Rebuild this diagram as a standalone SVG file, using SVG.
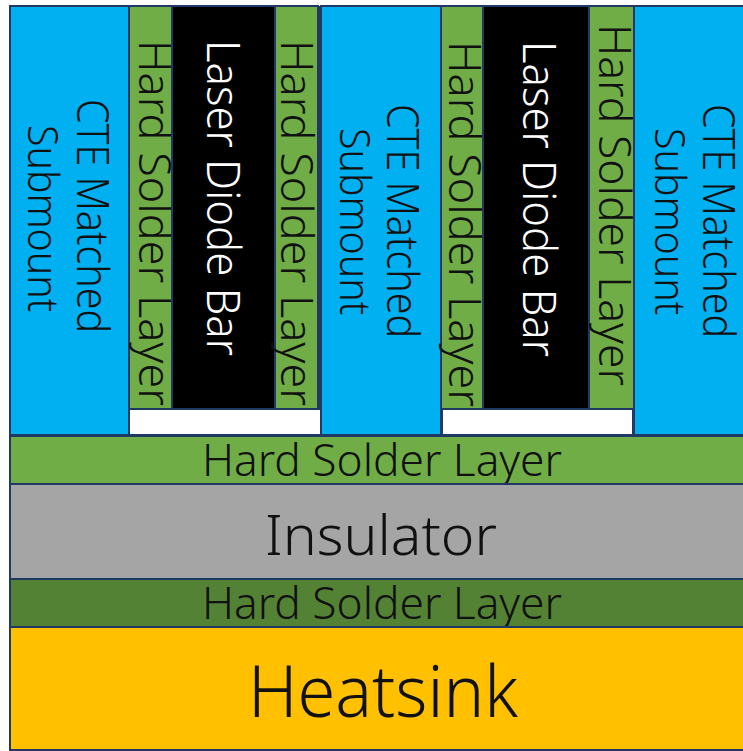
<svg xmlns="http://www.w3.org/2000/svg" width="743" height="751" viewBox="0 0 743 751">
<style>
.b{stroke:#203864;stroke-width:2}
.t{font-family:"Noto Sans","Liberation Sans",sans-serif;font-weight:300;fill:#111}
.g{fill:#70ad47}.s{fill:#00b0f0}.k{fill:#000}.w{fill:#fff}
.v{font-size:44px}.h{font-size:44px}
.l{fill:#fff;font-size:46px}
</style>
<rect width="743" height="751" fill="#fff"/>
<g id="submount-1"><rect class="b s" x="10" y="6" width="119" height="429"/>
<text class="t v" textLength="234" lengthAdjust="spacingAndGlyphs" transform="translate(77,99) rotate(90)">CTE Matched</text><text class="t" style="font-size:42px" textLength="187" lengthAdjust="spacingAndGlyphs" transform="translate(28,125) rotate(90)">Submount</text></g>
<g id="solder-1"><rect class="b g" x="129" y="6" width="43" height="403"/><text class="t v" textLength="366" lengthAdjust="spacingAndGlyphs" transform="translate(139,40) rotate(90)">Hard Solder Layer</text></g>
<g id="bar-1"><rect class="b k" x="172" y="6" width="103" height="403"/><text class="t l" textLength="316" lengthAdjust="spacingAndGlyphs" transform="translate(207,40) rotate(90)">Laser Diode Bar</text></g>
<g id="solder-2"><rect class="b g" x="275" y="6" width="43" height="403"/><rect x="318" y="6" width="4" height="403" fill="#203864"/><text class="t v" textLength="366" lengthAdjust="spacingAndGlyphs" transform="translate(281,40) rotate(90)">Hard Solder Layer</text></g>
<g id="gap-1"><rect class="b w" x="129" y="409" width="192" height="26"/></g>
<g id="submount-2"><rect class="b s" x="321" y="6" width="120" height="429"/>
<text class="t v" textLength="234" lengthAdjust="spacingAndGlyphs" transform="translate(387,104) rotate(90)">CTE Matched</text><text class="t" style="font-size:42px" textLength="187" lengthAdjust="spacingAndGlyphs" transform="translate(340,128) rotate(90)">Submount</text></g>
<g id="solder-3"><rect class="b g" x="441" y="6" width="42" height="403"/><text class="t v" textLength="366" lengthAdjust="spacingAndGlyphs" transform="translate(449,41) rotate(90)">Hard Solder Layer</text></g>
<g id="bar-2"><rect class="b k" x="483" y="6" width="106" height="403"/><text class="t l" textLength="316" lengthAdjust="spacingAndGlyphs" transform="translate(523,41) rotate(90)">Laser Diode Bar</text></g>
<g id="solder-4"><rect class="b g" x="589" y="6" width="45" height="403"/><text class="t v" textLength="362" lengthAdjust="spacingAndGlyphs" transform="translate(599,24) rotate(90)">Hard Solder Layer</text></g>
<g id="gap-2"><rect class="b w" x="442" y="409" width="191" height="26"/></g>
<g id="submount-3"><rect class="b s" x="634" y="6" width="115" height="429"/>
<text class="t v" textLength="234" lengthAdjust="spacingAndGlyphs" transform="translate(703,104) rotate(90)">CTE Matched</text><text class="t" style="font-size:42px" textLength="187" lengthAdjust="spacingAndGlyphs" transform="translate(655,128) rotate(90)">Submount</text></g>
<g id="solder-top"><rect class="b g" x="10" y="436" width="739" height="48"/><text class="t h" textLength="360" lengthAdjust="spacingAndGlyphs" x="202" y="476">Hard Solder Layer</text></g>
<g id="insulator"><rect class="b" fill="#a5a5a5" x="10" y="484" width="739" height="95"/><text class="t" style="font-size:56px" textLength="232" lengthAdjust="spacingAndGlyphs" x="265" y="555">Insulator</text></g>
<g id="solder-bottom"><rect class="b" fill="#548235" x="10" y="579" width="739" height="48"/><text class="t h" textLength="360" lengthAdjust="spacingAndGlyphs" x="202" y="619">Hard Solder Layer</text></g>
<g id="heatsink"><rect class="b" fill="#ffc000" x="10" y="627" width="739" height="123"/><text class="t" style="font-size:72px" textLength="270" lengthAdjust="spacingAndGlyphs" x="248" y="717">Heatsink</text></g>
<g id="connectors"></g>
</svg>
